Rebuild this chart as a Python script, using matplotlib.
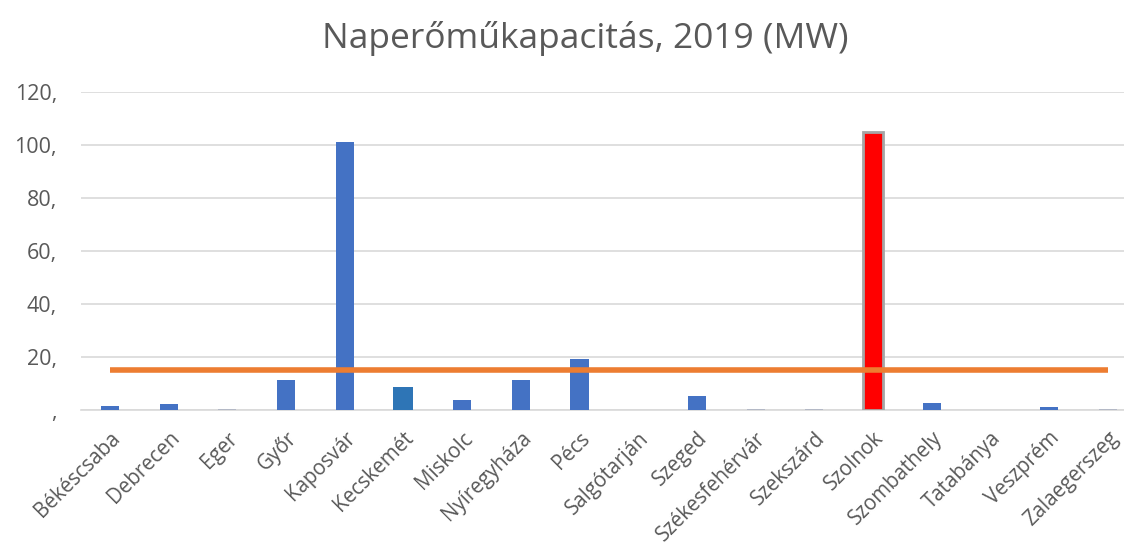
import numpy as np
import matplotlib
matplotlib.use('Agg')
import matplotlib.pyplot as plt

plt.rcParams['font.family'] = ['Open Sans', 'DejaVu Sans']

cities = ['Békéscsaba', 'Debrecen', 'Eger', 'Győr', 'Kaposvár', 'Kecskemét',
          'Miskolc', 'Nyíregyháza', 'Pécs', 'Salgótarján', 'Szeged',
          'Székesfehérvár', 'Szekszárd', 'Szolnok', 'Szombathely',
          'Tatabánya', 'Veszprém', 'Zalaegerszeg']
capacity_mw = [1.5, 2.5, 0.3, 11.2, 101.0, 8.8, 3.8, 11.2, 19.3, 0.0, 5.2,
               0.3, 0.3, 104.8, 2.8, 0.0, 1.2, 0.3]
average_mw = 15.2
y_ticks = [0, 20, 40, 60, 80, 100, 120]
y_tick_labels = [',', '20,', '40,', '60,', '80,', '100,', '120,']

BLUE = '#4472C4'
text_gray = '#595959'

fig = plt.figure(figsize=(11.24, 5.55), dpi=100)
ax = fig.add_axes([0.0717, 0.261, 0.94, 0.573])

x = np.arange(len(cities))
colors = [BLUE] * len(cities)
widths = [0.31] * len(cities)
edges = ['none'] * len(cities)
for i, name in enumerate(cities):
    if capacity_mw[i] < 0.5:
        colors[i] = '#b4b9c6'
    if name == 'Kecskemét':
        colors[i] = '#2E75B6'
        widths[i] = 0.34
    if name == 'Szolnok':
        colors[i] = '#FF0000'
        widths[i] = 0.34
        edges[i] = '#a5a5a5'

bars = ax.bar(x, capacity_mw, width=widths, color=colors, zorder=3)
for b, ec in zip(bars, edges):
    if ec != 'none':
        b.set_edgecolor(ec)
        b.set_linewidth(2)

# average line
ax.plot([x[0], x[-1]], [average_mw, average_mw], color='#ED7D31', lw=4,
        solid_capstyle='butt', zorder=4)

ax.set_xlim(-0.5, len(cities) - 0.5)
ax.set_ylim(0, 120)
ax.set_yticks(y_ticks)
ax.set_yticklabels(y_tick_labels)
ax.yaxis.grid(True, color='#d9d9d9', lw=1.2, zorder=0)
for s in ['top', 'right', 'left']:
    ax.spines[s].set_visible(False)
ax.spines['bottom'].set_color('#d9d9d9')
ax.spines['bottom'].set_linewidth(1.2)
ax.tick_params(axis='both', length=0, colors=text_gray)
ax.tick_params(axis='y', pad=17, labelsize=15.5)
ax.tick_params(axis='x', labelsize=14.8)

ax.set_xticks(x)
ax.set_xticklabels(cities, rotation=45, ha='right', rotation_mode='anchor')
for lbl in ax.get_xticklabels():
    lbl.set_y(-0.04)

fig.text(0.521, 0.93, 'Naperőműkapacitás, 2019 (MW)', ha='center',
         va='center', fontsize=25.5, color=text_gray)

fig.savefig('out.png', dpi=100)
